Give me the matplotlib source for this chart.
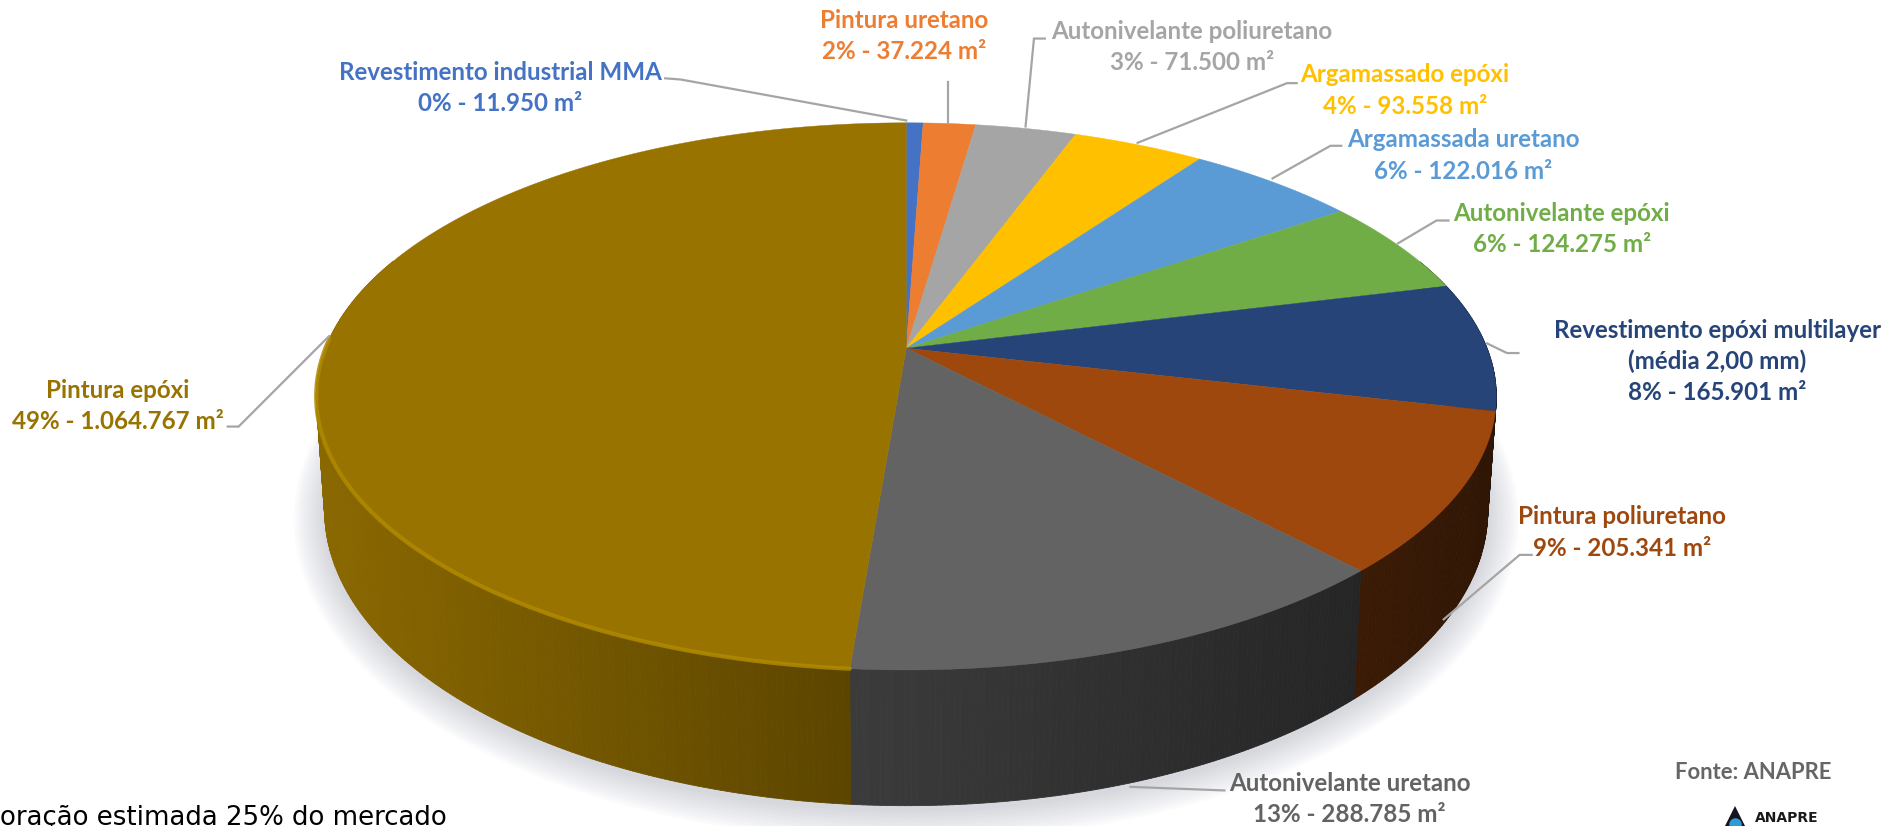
import numpy as np
import matplotlib
matplotlib.use("Agg")
import matplotlib.pyplot as plt
from matplotlib.collections import PolyCollection
from matplotlib.colors import to_rgb

categories = ["Revestimento industrial MMA", "Pintura uretano", "Autonivelante poliuretano",
              "Argamassado epóxi", "Argamassada uretano", "Autonivelante epóxi",
              "Revestimento epóxi multilayer\n(média 2,00 mm)", "Pintura poliuretano",
              "Autonivelante uretano", "Pintura epóxi"]
areas = [11950, 37224, 71500, 93558, 122016, 124275, 165901, 205341, 288785, 1064767]
shares = ["0%", "2%", "3%", "4%", "6%", "6%", "8%", "9%", "13%", "49%"]
area_labels = ["11.950", "37.224", "71.500", "93.558", "122.016", "124.275", "165.901",
               "205.341", "288.785", "1.064.767"]
colors = ["#4472C4", "#ED7D31", "#A5A5A5", "#FFC000", "#5B9BD5", "#70AD47", "#264478",
          "#9E480E", "#636363", "#997300"]

# layout (in an axes of 1570 x 685.5 units)
W, H = 1570, 685.5
CX, CY, A, B, P = 752, 289, 482, 220, 0.176
A_BOTTOM, B_BOTTOM, CY_BOTTOM = 475, 237, 381
label_xy = [(415, 60), (750, 17), (989, 26), (1166, 62), (1214, 116), (1296, 177),
            (1425, 274), (1346, 429), (1120, 650), (98, 324)]
leaders = [[(552, 65), (565, 66), (752, 100)], [(787, 68), (787, 102)],
           [(867, 32), (858, 32), (851, 105)], [(1076, 69), (1068, 69), (944, 118.5)],
           [(1113, 121), (1104, 121), (1056, 148)], [(1202, 183), (1192, 183), (1160, 202)],
           [(1260, 293), (1250.5, 293), (1234, 285)], [(1271, 460.5), (1261, 460.5), (1198, 514)],
           [(1016, 656), (938, 653)], [(189, 354), (198, 354), (273, 279)]]


def top(theta):
    """theta: clockwise from 12 o'clock, radians."""
    u, v = np.sin(theta), np.cos(theta)
    w = 1 + P * v
    return CX + A * u / w, CY - B * v / w


def bottom(theta):
    u, v = np.sin(theta), np.cos(theta)
    w = 1 + P * v
    return CX + A_BOTTOM * u / w, CY_BOTTOM - B_BOTTOM * v / w


def side_gain(x):
    return np.interp(x, [270, 705, 1120, 1240], [0.90, 0.60, 0.38, 0.30])


fig = plt.figure(figsize=(18.92, 8.26), dpi=100, facecolor="white")
ax = fig.add_axes([0, 0, 1, 1])
ax.set_xlim(0, W)
ax.set_ylim(H, 0)
ax.axis("off")
plt.rcParams["font.family"] = ["Lato", "DejaVu Sans"]

fractions = np.array(areas, float) / sum(areas)
edges = np.concatenate([[0], np.cumsum(fractions)]) * 2 * np.pi

# soft shadow below the disk
t = np.linspace(0, 2 * np.pi, 361)
bx, by = bottom(t)
for grow in np.linspace(26, 2, 12):
    sx = CX + (bx - CX) * (1 + grow / 490)
    sy = CY_BOTTOM + (by - CY_BOTTOM) * (1 + grow / 280) + 3
    ax.fill(sx, sy, color="#9aa0ad", alpha=0.035, lw=0, zorder=1)

# side wall
polys, cols = [], []
for a0, a1, c in zip(edges[:-1], edges[1:], colors):
    base = np.array(to_rgb(c))
    n = max(2, int(np.degrees(a1 - a0) * 2))
    ts = np.linspace(a0, a1, n + 1)
    for t0, t1 in zip(ts[:-1], ts[1:]):
        if np.cos((t0 + t1) / 2) > 0.35:
            continue
        x0, y0 = top(t0); x1, y1 = top(t1)
        x2, y2 = bottom(t1); x3, y3 = bottom(t0)
        polys.append([(x0, y0), (x1, y1), (x2, y2), (x3, y3)])
        cols.append(tuple(base * side_gain((x0 + x1) / 2)))
ax.add_collection(PolyCollection(polys, facecolors=cols, edgecolors=cols, linewidths=0.6, zorder=2))

# top face
for a0, a1, c in zip(edges[:-1], edges[1:], colors):
    ts = np.linspace(a0, a1, max(3, int(np.degrees(a1 - a0) * 2)))
    x, y = top(ts)
    ax.fill(np.r_[CX, x], np.r_[CY, y], color=c, lw=0.3, zorder=3)

# bevel highlight along the front rim of the largest slice
ts = np.linspace(edges[-2], np.radians(272), 200)
x, y = top(ts)
ax.plot(x, y, color="#B08A00", lw=3.0, alpha=0.85, zorder=4, solid_capstyle="round")

# leaders and labels
for pts in leaders:
    p = np.array(pts)
    ax.plot(p[:, 0], p[:, 1], color="#A5A5A5", lw=1.6, zorder=5, solid_joinstyle="miter")
for cat, sh, ar, c, (x, y) in zip(categories, shares, area_labels, colors, label_xy):
    lines = cat.split("\n") + [f"{sh} - {ar} m²"]
    for i, line in enumerate(lines):
        ax.text(x, y + i * 26, line, color=c, fontsize=17.4, fontweight="bold",
                ha="center", va="center", zorder=6)

ax.text(1455, 640.7, "Fonte: ANAPRE", color="#666666", fontsize=15.8, fontweight="bold",
        ha="center", va="center", zorder=6)
ax.text(0, 684.5, "oração estimada 25% do mercado", color="black", fontsize=18.7,
        family="DejaVu Sans", ha="left", va="baseline", zorder=6)
ax.plot([1440], [677], marker="^", ms=14, color="#15151f", mew=0, zorder=6)
ax.plot([1440], [684], marker="o", ms=9, color="#2E9BD6", mew=0, zorder=7)
ax.text(1456, 679, "ANAPRE", color="#1a1a1a", fontsize=10, fontweight="bold",
        family="DejaVu Sans", ha="left", va="center", zorder=6)

fig.savefig("out.png", dpi=100, facecolor="white")
